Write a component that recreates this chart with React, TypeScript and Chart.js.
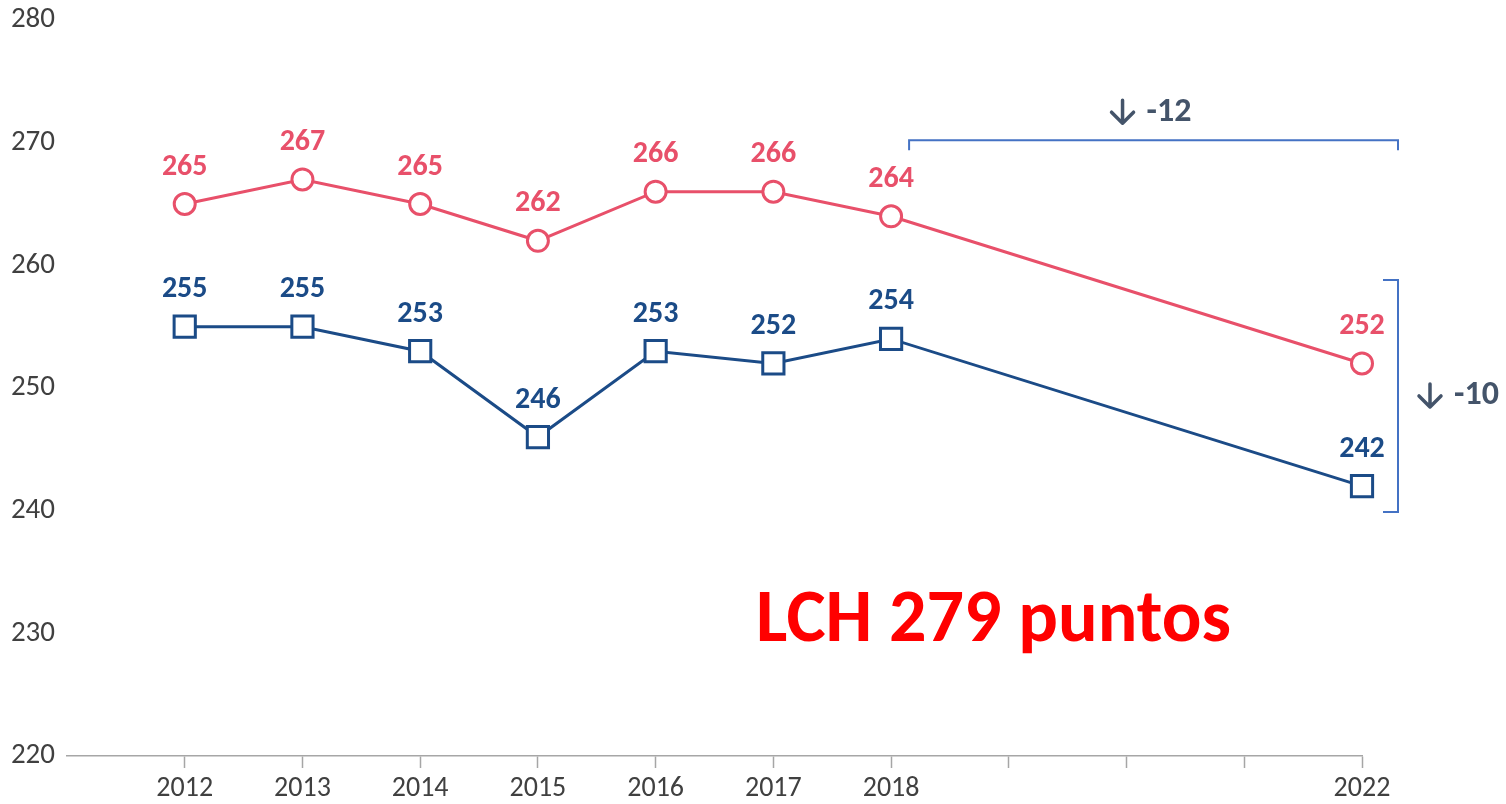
import React, { useEffect, useRef } from 'react';
import { Chart, registerables } from 'chart.js';

Chart.register(...registerables);

// ---- data ----
const categories = ['', '2012', '2013', '2014', '2015', '2016', '2017', '2018', '2019', '2020', '2021', '2022'];
const tickLabels = ['', '2012', '2013', '2014', '2015', '2016', '2017', '2018', '', '', '', '2022'];
const seriesRed: (number | null)[] = [null, 265, 267, 265, 262, 266, 266, 264, null, null, null, 252];
const seriesBlue: (number | null)[] = [null, 255, 255, 253, 246, 253, 252, 254, null, null, null, 242];
const yTicks = [220, 230, 240, 250, 260, 270, 280];
const changeRed = '-12';
const changeBlue = '-10';
const noteText = 'LCH 279 puntos';

const RED = '#E8506A';
const BLUE = '#1B4B87';
const AXIS_GRAY = '#A6A6A6';
const TEXT_GRAY = '#404040';
const SLATE = '#44546A';
const BRACKET = '#4472C4';
const FONT = 'Carlito, Lato, "Open Sans", sans-serif';

const valueLabels = {
  id: 'valueLabels',
  afterDatasetsDraw(chart: any) {
    const ctx = chart.ctx;
    chart.data.datasets.forEach((ds: any, i: number) => {
      const meta = chart.getDatasetMeta(i);
      meta.data.forEach((pt: any, j: number) => {
        const v = ds.data[j];
        if (v == null) return;
        ctx.save();
        ctx.font = `bold 30px ${FONT}`;
        ctx.fillStyle = ds.borderColor;
        ctx.textAlign = 'center';
        ctx.textBaseline = 'middle';
        ctx.fillText(String(v), pt.x, pt.y - 37);
        ctx.restore();
      });
    });
  },
};

function drawArrow(ctx: CanvasRenderingContext2D, x: number, y: number) {
  ctx.save();
  ctx.strokeStyle = SLATE;
  ctx.lineWidth = 3.5;
  ctx.lineCap = 'round';
  ctx.lineJoin = 'round';
  ctx.beginPath();
  ctx.moveTo(x, y - 12);
  ctx.lineTo(x, y + 11);
  ctx.moveTo(x - 11, y);
  ctx.lineTo(x, y + 11);
  ctx.lineTo(x + 11, y);
  ctx.stroke();
  ctx.restore();
}

const annotations = {
  id: 'annotations',
  afterDatasetsDraw(chart: any) {
    const ctx = chart.ctx as CanvasRenderingContext2D;
    const xs = chart.scales.x;
    const ys = chart.scales.y;
    const x2018 = xs.getPixelForValue(7);
    const x2022 = xs.getPixelForValue(11);

    ctx.save();
    ctx.strokeStyle = BRACKET;
    ctx.lineWidth = 2;
    // top bracket
    const yTop = ys.getPixelForValue(270.2);
    const xL = x2018 + 18;
    const xR = x2022 + 36;
    ctx.beginPath();
    ctx.moveTo(xL, yTop + 10);
    ctx.lineTo(xL, yTop);
    ctx.lineTo(xR, yTop);
    ctx.lineTo(xR, yTop + 10);
    ctx.stroke();
    // right bracket
    const yB1 = ys.getPixelForValue(258.8);
    const yB2 = ys.getPixelForValue(239.9);
    ctx.beginPath();
    ctx.moveTo(xR - 15, yB1);
    ctx.lineTo(xR, yB1);
    ctx.lineTo(xR, yB2);
    ctx.lineTo(xR - 15, yB2);
    ctx.stroke();
    ctx.restore();

    // change labels
    ctx.save();
    ctx.fillStyle = SLATE;
    ctx.font = `bold 34px ${FONT}`;
    ctx.textAlign = 'left';
    ctx.textBaseline = 'middle';
    const cx = (xL + xR) / 2;
    const cy = yTop - 28;
    drawArrow(ctx, cx - 31, cy);
    ctx.fillText(changeRed, cx - 7, cy);
    const ry = (yB1 + yB2) / 2;
    drawArrow(ctx, xR + 32, ry);
    ctx.fillText(changeBlue, xR + 56, ry);
    ctx.restore();

    // note
    ctx.save();
    ctx.fillStyle = '#FF0000';
    ctx.font = `bold 74px ${FONT}`;
    ctx.textAlign = 'center';
    ctx.textBaseline = 'alphabetic';
    ctx.fillText(noteText, xs.getPixelForValue(7.87), ys.getPixelForValue(229.4));
    ctx.restore();
  },
};

export default function App() {
  const ref = useRef<HTMLCanvasElement | null>(null);

  useEffect(() => {
    document.body.style.margin = '0';
    const canvas = ref.current;
    if (!canvas) return;
    const chart = new Chart(canvas, {
      type: 'line',
      data: {
        labels: categories,
        datasets: [
          {
            label: 'A',
            data: seriesRed,
            borderColor: RED,
            backgroundColor: '#FFFFFF',
            borderWidth: 3,
            pointStyle: 'circle',
            pointRadius: 10.5,
            pointBorderWidth: 3,
            pointBackgroundColor: '#FFFFFF',
            pointBorderColor: RED,
            spanGaps: true,
          },
          {
            label: 'B',
            data: seriesBlue,
            borderColor: BLUE,
            backgroundColor: '#FFFFFF',
            borderWidth: 3,
            pointStyle: 'rect',
            pointRadius: 15,
            pointBorderWidth: 3,
            pointBackgroundColor: '#FFFFFF',
            pointBorderColor: BLUE,
            spanGaps: true,
          },
        ],
      },
      options: {
        responsive: false,
        animation: false,
        layout: { padding: { top: 20, right: 144, bottom: 0, left: 0 } },
        plugins: { legend: { display: false }, tooltip: { enabled: false } },
        scales: {
          x: {
            type: 'category',
            offset: false,
            grid: {
              display: true,
              drawOnChartArea: false,
              drawTicks: true,
              tickLength: 12,
              tickWidth: 1.5,
              tickColor: (c: any) => (c.index === 0 ? 'rgba(0,0,0,0)' : AXIS_GRAY),
            },
            border: { display: true, color: AXIS_GRAY, width: 1.5 },
            ticks: {
              autoSkip: false,
              maxRotation: 0,
              padding: 4,
              color: TEXT_GRAY,
              font: { family: FONT, size: 28 },
              callback: (_v: any, i: number) => tickLabels[i],
            },
            afterFit: (s: any) => {
              s.height = 48;
              s.paddingLeft = 0;
              s.paddingRight = 0;
            },
          },
          y: {
            min: 220,
            max: 280,
            grid: { display: false, drawTicks: false },
            border: { display: false },
            ticks: {
              padding: 12,
              color: TEXT_GRAY,
              font: { family: FONT, size: 29 },
              callback: (v: any) => String(v),
            },
            afterBuildTicks: (s: any) => {
              s.ticks = yTicks.map((v) => ({ value: v }));
            },
            afterFit: (s: any) => {
              s.width = 67;
              s.paddingTop = 0;
              s.paddingBottom = 0;
            },
          },
        },
      },
      plugins: [valueLabels, annotations],
    });
    return () => chart.destroy();
  }, []);

  return (
    <div style={{ position: 'fixed', left: 0, top: 0, width: 1506, height: 804, background: '#FFFFFF' }}>
      <canvas ref={ref} width={1506} height={804} style={{ display: 'block', width: 1506, height: 804 }} />
    </div>
  );
}
